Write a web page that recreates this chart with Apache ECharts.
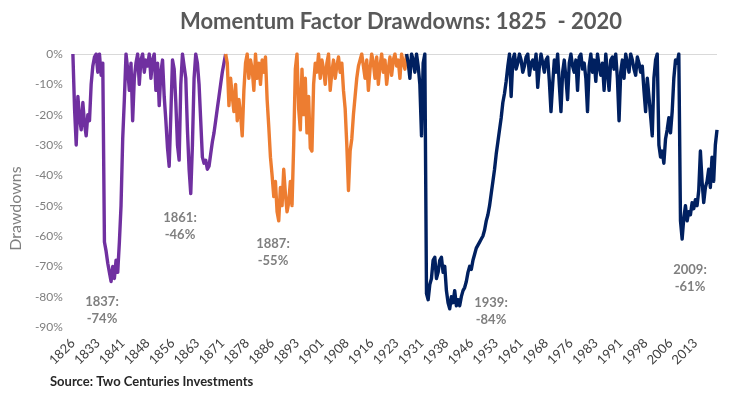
<!DOCTYPE html>
<html style="height: 100%">
<head>
<meta charset="utf-8">
</head>
<body style="height: 100%; margin: 0; background: #fff">
<div id="container" style="width: 740px; height: 397px"></div>
<script src="https://cdn.jsdelivr.net/npm/echarts@6/dist/echarts.min.js"></script>
<script>
// half-year steps, first point 1826.0
var startYear = 1826;
var endYear = 2020;

// 1826.0 - 1872.0
var purple = [
  0, -18, -30, -14, -21, -25, -16, -23, -27, -20, -22, -10, -4, -1, 0, -6, 0, -7,
  -3, -62, -65, -69, -72, -75, -70, -74, -68, -72, -62, -50, -28, -15,
  0, -5, -12, -3, -22, -8, -3, 0, -10, -2, 0, -6, -2, -4, 0, -8, -2, 0,
  -12, -3, -17, -6, -2, -14, -22, -31, -37, -20, -2, -5, -16, -30, -35, -10,
  0, -4, -8, -25, -38, -46, -30, -8, 0, -3, -10, -22, -34, -36, -35, -38,
  -37, -33, -29, -26, -22, -18, -14, -10, -6, -3,
  0
];
// 1872.0 - 1926.5
var orange = [
  0, -3, -17, -8, -14, -19, -10, -22, -15, -20, -27, -12, -3, 0, -8, -2,
  -5, -12, 0, -8, -3, -10, -2, -6, -1, -15, -24, -34, -40, -47, -42, -52,
  -55, -44, -50, -38, -46, -52, -49, -42, -50, -30, -5, 0, -18, -25, -5, -20,
  -8, -26, -14, -31, -32, -10, -3, -6, 0, -8, -2, -5, -10, -3, 0, -12,
  -6, -2, -8, -4, -1, -6, -3, -12, -18, -30, -45, -32, -28, -20, -14, -8,
  -4, -2, 0, -4, -8, -2, -12, -5, 0, -3, -8, -1, -10, -4, 0, -6,
  -2, -10, -5, -1, -7, -2, 0, -4, -2, -8, 0, -3, -5, 0
];
// 1926.5 - 2020.0
var navy = [
  0,
  -3, -8, 0, -2, -6, 0, -4, -10, -27, -3, 0, -79, -81, -76, -74, -68,
  -67, -74, -72, -68, -67, -72, -70, -78, -82, -84, -80, -82, -78, -83, -81, -83,
  -80, -78, -77, -75, -72, -70, -71, -68, -66, -64, -63, -62, -61, -60, -58, -55,
  -53, -50, -46, -42, -38, -33, -29, -25, -21, -16, -13, -9, -4, 0, -14, -2,
  0, -5, -3, 0, -2, -6, -4, -1, 0, -7, -3, -2, -5, 0, -11, -4,
  0, -3, -6, -2, -1, -9, -19, -10, -2, -6, 0, -10, -19, -6, -2, -8,
  -15, -3, 0, -4, -6, -2, -12, -1, 0, -5, -3, -8, -19, -4, 0, -6,
  -2, -9, 0, -4, -7, -3, -12, 0, -6, -12, -2, -1, -5, 0, -8, -22,
  -6, -2, -8, 0, -3, -6, 0, -2, -5, -7, -1, -3, -6, -4, -12, -19,
  -8, -14, -14, -27, -8, -2, 0, -30, -34, -32, -36, -28, -25, -21, -26, -19,
  -8, -2, -3, 0, -55, -61, -54, -50, -55, -52, -53, -49, -51, -48, -50, -45,
  -32, -42, -49, -44, -42, -38, -44, -34, -42, -30,
  -25
];
var orangeStart = 92;
var navyStart = 201;

var yTicks = [-90, 0, 10];

var notes = [
  { text: '1837:\n-74%', x: 102, y: 310 },
  { text: '1861:\n-46%', x: 180, y: 226 },
  { text: '1887:\n-55%', x: 273, y: 252 },
  { text: '1939:\n-84%', x: 491, y: 311 },
  { text: '2009:\n-61%', x: 690, y: 278 }
];

var years = [];
for (var y = startYear; y <= endYear; y += 0.5) {
  years.push(String(Math.floor(y)));
}

function pad(arr, start) {
  var out = [];
  for (var i = 0; i < years.length; i++) {
    var k = i - start;
    out.push(k >= 0 && k < arr.length ? arr[k] : null);
  }
  return out;
}

var font = 'Lato, "DejaVu Sans", sans-serif';
var chart = echarts.init(document.getElementById('container'));

function lineSeries(name, data, color) {
  return {
    name: name,
    type: 'line',
    data: data,
    symbol: 'none',
    connectNulls: false,
    lineStyle: { color: color, width: 3.4, join: 'round' },
    itemStyle: { color: color },
    z: 3
  };
}

var series = [
  lineSeries('1826-1872', pad(purple, 0), '#7030A0'),
  lineSeries('1872-1926', pad(orange, orangeStart), '#ED7D31'),
  lineSeries('1926-2020', pad(navy, navyStart), '#002060')
];
series[0].markLine = {
  silent: true,
  symbol: 'none',
  label: { show: false },
  lineStyle: { color: '#d9d9d9', type: 'solid', width: 1 },
  data: [{ yAxis: 0 }],
  z: 1
};

chart.setOption({
  animation: false,
  title: {
    text: 'Momentum Factor Drawdowns: 1825  - 2020',
    left: 396,
    top: 6,
    textAlign: 'center',
    textStyle: { fontFamily: font, fontSize: 22, fontWeight: 'bold', color: '#595959' }
  },
  grid: { left: 62, right: 23, top: 54, bottom: 70, containLabel: false },
  xAxis: {
    type: 'category',
    data: years,
    boundaryGap: false,
    axisLine: { show: false },
    axisTick: { show: false },
    axisLabel: {
      interval: 14,
      rotate: 45,
      margin: 14,
      fontFamily: font,
      fontSize: 13,
      color: '#404040'
    }
  },
  yAxis: {
    type: 'value',
    min: yTicks[0],
    max: yTicks[1],
    interval: yTicks[2],
    name: 'Drawdowns',
    nameLocation: 'middle',
    nameGap: 38,
    nameTextStyle: { fontFamily: font, fontSize: 16, color: '#7f7f7f', padding: [0, 0, 0, -36] },
    axisLine: { show: false },
    axisTick: { show: false },
    splitLine: { show: false },
    axisLabel: {
      formatter: function (v) { return v + '%'; },
      fontFamily: font,
      fontSize: 12,
      color: '#7f7f7f',
      margin: 10
    }
  },
  series: series,
  graphic: notes.map(function (n) {
    return {
      type: 'text',
      x: n.x,
      y: n.y,
      style: {
        text: n.text,
        fontFamily: font,
        fontSize: 13,
        fontWeight: 'bold',
        fill: '#7f7f7f',
        align: 'center',
        verticalAlign: 'middle',
        lineHeight: 17
      }
    };
  }).concat([{
    type: 'text',
    left: 50,
    top: 375,
    style: {
      text: 'Source: Two Centuries Investments',
      fontFamily: font,
      fontSize: 13,
      fontWeight: 'bold',
      fill: '#262626'
    }
  }])
});
</script>
</body>
</html>
